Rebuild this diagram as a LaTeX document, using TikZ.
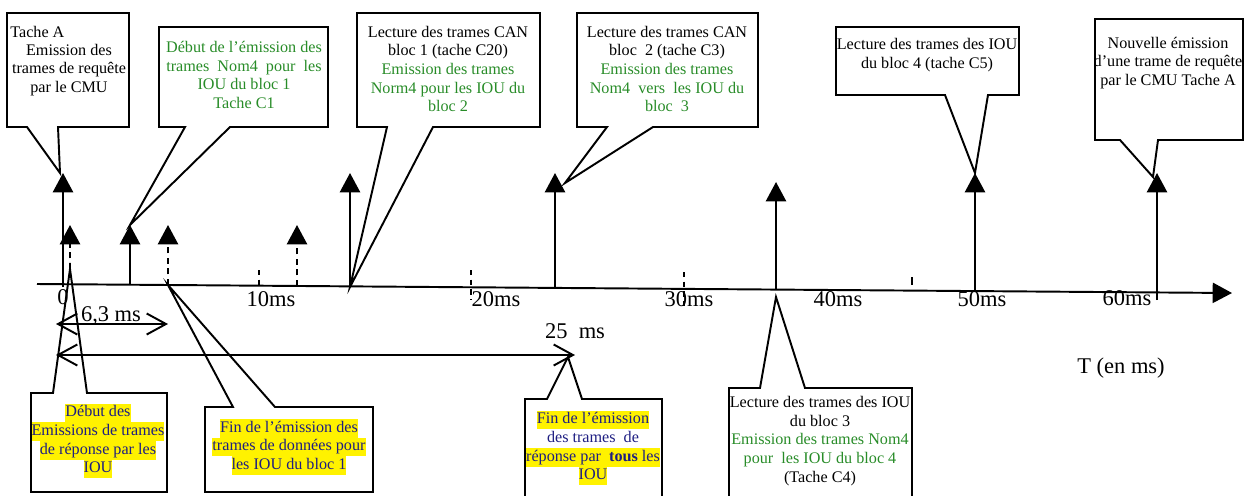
\documentclass[tikz,border=0pt]{standalone}
\usepackage{fontspec}
\setmainfont{Liberation Serif}
\usetikzlibrary{arrows.meta}

\definecolor{vert}{RGB}{40,140,40}
\definecolor{marine}{RGB}{30,30,130}
\newcommand{\surligne}[1]{{\setlength{\fboxsep}{0pt}\colorbox{yellow}{\strut #1}}}

\begin{document}
\begin{tikzpicture}[
    x=0.02cm, y=-0.02cm,
    petit/.style={font=\fontsize{9.2}{10.6}\selectfont, align=center, inner sep=0pt},
    grand/.style={font=\fontsize{12.8}{14}\selectfont, inner sep=0pt},
    bulle/.style={draw, line width=1.1pt},
    fleche/.style={line width=1.1pt, -{Triangle[width=11.5pt,length=11pt]}},
    pointille/.style={fleche, dash pattern=on 3.4pt off 2.6pt},
    cote/.style={line width=1.1pt, {Straight Barb[length=11pt,width=12pt]}-{Straight Barb[length=11pt,width=12pt]}},
    repere/.style={line width=1pt, dash pattern=on 3pt off 2.5pt}
]
\useasboundingbox (0,0) rectangle (1244,495);

% axe du temps
\coordinate (O) at (37,284);
\coordinate (Tfin) at (1232,293);
\draw[fleche] (O) -- (Tfin);

% graduations
\draw[repere] (259,270) -- (259,286);
\draw[repere] (471,270) -- (471,300);
\draw[repere] (684,272) -- (684,309);
\draw[line width=1pt] (912,277) -- (912,285);

\node[grand] (l0) at (63,297) {0};
\node[grand] (l10) at (271,299) {10ms};
\node[grand] (l20) at (496,299) {20ms};
\node[grand] (l30) at (689,299) {30ms};
\node[grand] (l40) at (838,299) {40ms};
\node[grand] (l50) at (982,299) {50ms};
\node[grand] (l60) at (1127,298) {60ms};
\node[grand] (unite) at (1121,368) {T (en ms)};

% pieds et tetes des fleches
\coordinate (pied0) at (63,287);   \coordinate (tete0) at (63,173);
\coordinate (pied1) at (130,285);  \coordinate (tete1) at (130,225);
\coordinate (pied2) at (350,287);  \coordinate (tete2) at (350,173);
\coordinate (pied3) at (555,287);  \coordinate (tete3) at (555,173);
\coordinate (pied4) at (776,290);  \coordinate (tete4) at (776,182);
\coordinate (pied5) at (975,291);  \coordinate (tete5) at (975,173);
\coordinate (pied6) at (1157,300); \coordinate (tete6) at (1157,173);
\coordinate (piedp0) at (70,269);  \coordinate (tetep0) at (70,225);
\coordinate (piedp1) at (168,285); \coordinate (tetep1) at (168,225);
\coordinate (piedp2) at (297,286); \coordinate (tetep2) at (297,225);

\draw[fleche] (pied0) -- (tete0);
\draw[fleche] (pied1) -- (tete1);
\draw[fleche] (pied2) -- (tete2);
\draw[fleche] (pied3) -- (tete3);
\draw[fleche] (pied4) -- (tete4);
\draw[fleche] (pied5) -- (tete5);
\draw[fleche] (pied6) -- (tete6);
\draw[pointille] (piedp0) -- (tetep0);
\draw[pointille] (piedp1) -- (tetep1);
\draw[pointille] (piedp2) -- (tetep2);

% cotes
\coordinate (c63a) at (56,324);  \coordinate (c63b) at (168,324);
\coordinate (c25a) at (56,355);  \coordinate (c25b) at (575,355);
\draw[cote] (c63a) -- (c63b);
\draw[cote] (c25a) -- (c25b);
\node[grand] (d63) at (111,316) {6,3 ms};
\node[grand] (d25) at (575,331) {25~~ms};

% bulles du haut
\coordinate (pA) at (60,173);
\coordinate (pC3) at (565,183);
\coordinate (pNouv) at (1153,177);
\draw[bulle] (7,13) -- (129,13) -- (129,127) -- (58,127) -- (pA) -- (27,127) -- (7,127) -- cycle;
\draw[bulle] (159,27) -- (328,27) -- (328,127) -- (230,127) -- (tete1) -- (185,127) -- (159,127) -- cycle;
\draw[bulle] (357,13) -- (540,13) -- (540,127) -- (433,127) -- (pied2) -- (387,127) -- (357,127) -- cycle;
\draw[bulle] (577,13) -- (758,13) -- (758,127) -- (653,127) -- (pC3) -- (607,127) -- (577,127) -- cycle;
\draw[bulle] (836,27) -- (1019,27) -- (1019,95) -- (988,95) -- (tete5) -- (945,95) -- (836,95) -- cycle;
\draw[bulle] (1095,19) -- (1243,19) -- (1243,140) -- (1158,140) -- (pNouv) -- (1120,140) -- (1095,140) -- cycle;

\node[petit, anchor=west] (tacheA) at (10,32) {Tache A};
\node[petit] (emA) at (69,70) {Emission des\\trames de requête\\par le CMU};
\node[petit, text=vert] (tC1) at (244,75) {Début de l’émission des\\trames~ Nom4~ pour~ les\\IOU du bloc 1\\Tache C1};
\node[petit] (tC20) at (448,69) {Lecture des trames CAN\\bloc 1 (tache C20)\\\textcolor{vert}{Emission des trames}\\\textcolor{vert}{Norm4 pour les IOU du}\\\textcolor{vert}{bloc 2}};
\node[petit] (tC3) at (667,69) {Lecture des trames CAN\\bloc~ 2 (tache C3)\\\textcolor{vert}{Emission des trames}\\\textcolor{vert}{Nom4~ vers~ les IOU du}\\\textcolor{vert}{bloc~ 3}};
\node[petit] (tC5) at (927,55) {Lecture des trames des IOU\\du bloc 4 (tache C5)};
\node[petit] (tNouv) at (1168,63) {Nouvelle émission\\d’une trame de requête\\par le CMU Tache A};

% bulles du bas
\coordinate (pFin2) at (568,357);
\coordinate (pC4) at (776,297);
\draw[bulle] (31,492) -- (31,393) -- (53,393) -- (piedp0) -- (87,393) -- (167,393) -- (167,492) -- cycle;
\draw[bulle] (205,492) -- (205,407) -- (233,407) -- (piedp1) -- (275,407) -- (373,407) -- (373,492) -- cycle;
\draw[bulle] (525,505) -- (525,399) -- (547,399) -- (pFin2) -- (582,399) -- (662,399) -- (662,505) -- cycle;
\draw[bulle] (729,505) -- (729,388) -- (760,388) -- (pC4) -- (805,388) -- (912,388) -- (912,505) -- cycle;

\node[petit, text=marine] (tDeb) at (98,441) {\surligne{Début des}\\\surligne{Emissions de trames}\\\surligne{de réponse par les}\\\surligne{IOU}};
\node[petit, text=marine] (tFin1) at (289,447) {\surligne{Fin de l’émission des}\\\surligne{trames de données pour}\\\surligne{les IOU du bloc 1}};
\node[petit, text=marine] (tFin2) at (593,448) {\surligne{Fin de l’émission}\\des trames~ de\\\surligne{réponse par~ \textbf{tous} les}\\\surligne{IOU}};
\node[petit] (tC4) at (820,441) {Lecture des trames des IOU\\du bloc 3\\\textcolor{vert}{Emission des trames Nom4}\\\textcolor{vert}{pour~ les IOU du bloc 4}\\(Tache C4)};

\end{tikzpicture}
\end{document}
